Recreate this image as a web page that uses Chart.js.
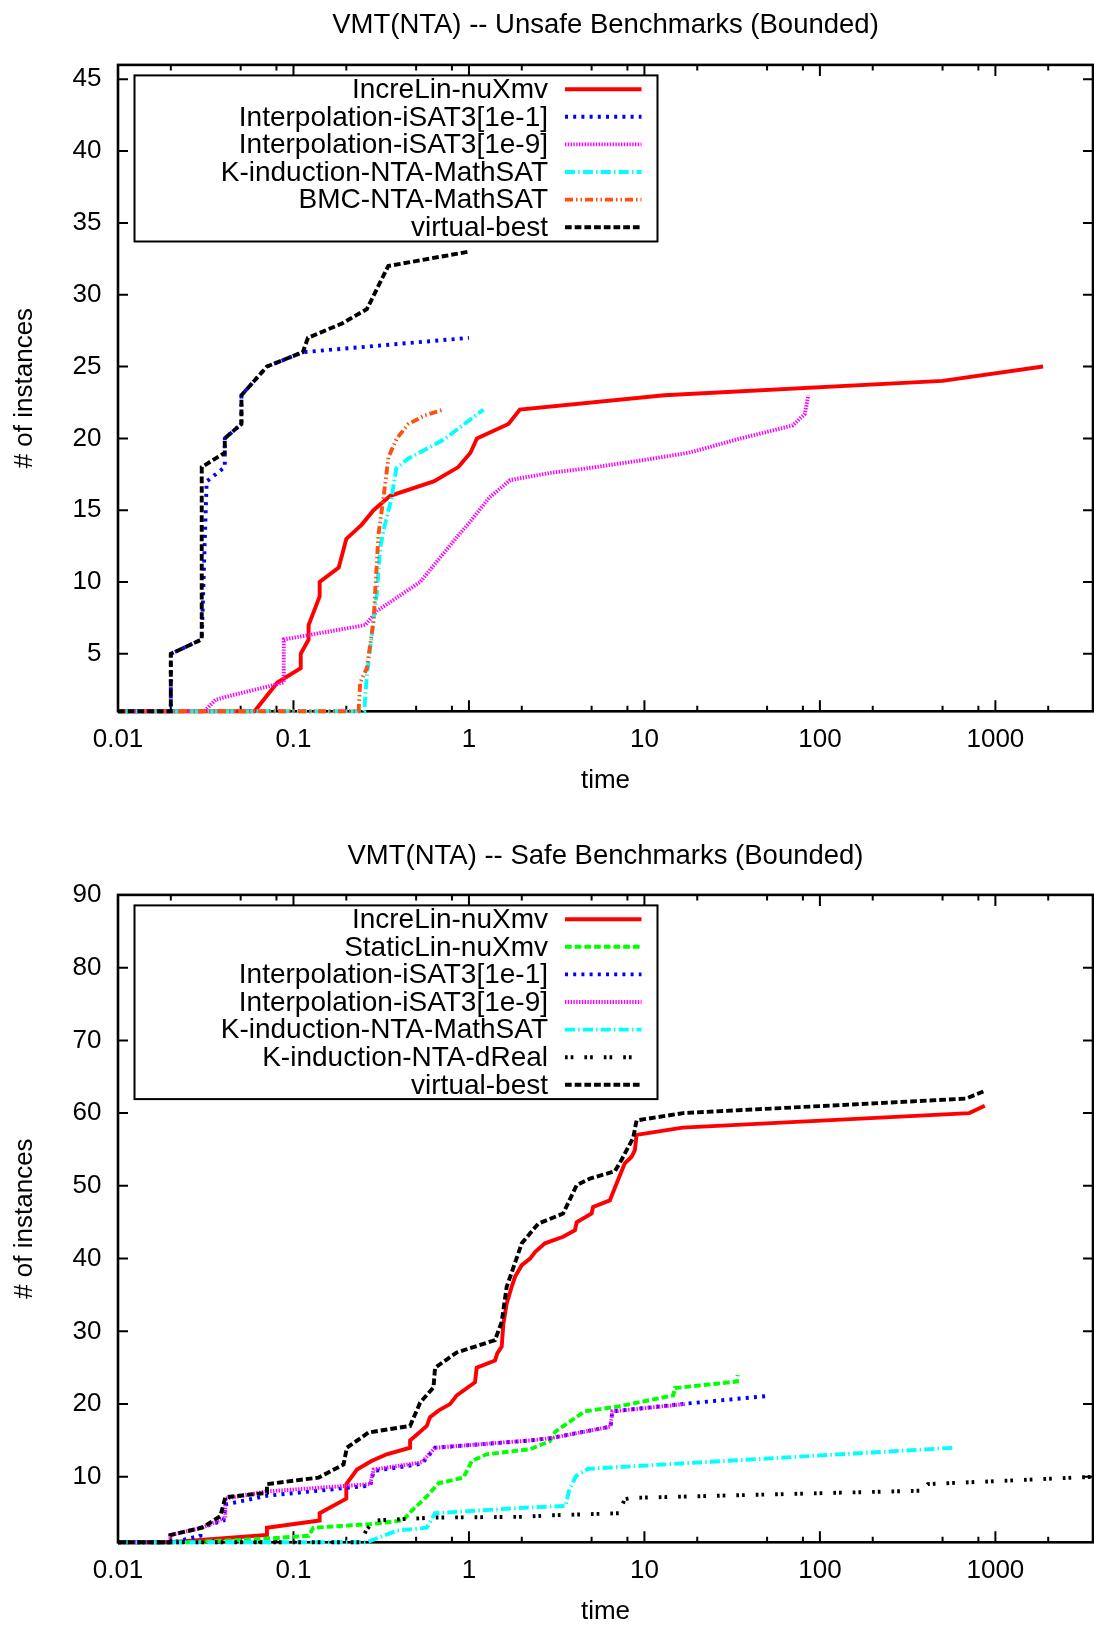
<!DOCTYPE html>
<html>
<head>
<meta charset="utf-8">
<title>VMT(NTA) bounded benchmarks</title>
<script src="https://cdn.jsdelivr.net/npm/chart.js@4.4.1/dist/chart.umd.min.js"></script>
<style>
  html, body { margin: 0; padding: 0; background: #fff; }
  canvas { display: block; }
</style>
</head>
<body>
<canvas id="chart-unsafe" width="1094" height="794"></canvas>
<canvas id="chart-safe" width="1094" height="831"></canvas>
<script>
// time axis (seconds, log scale)
const timeMajor = [0.01, 0.1, 1, 10, 100, 1000];
const timeMinor = [0.02, 0.05, 0.08, 0.2, 0.5, 0.8, 2, 5, 8, 20, 50, 80, 200, 500, 800, 2000];
const unsafeTicks = [5, 10, 15, 20, 25, 30, 35, 40, 45];
const safeTicks = [10, 20, 30, 40, 50, 60, 70, 80, 90];

// unsafe benchmarks: [time, solved instances]
const unsafeIncreLin = [[0.01, 1], [0.06, 1], [0.081, 3], [0.11, 4], [0.11, 5], [0.122, 6], [0.122, 7], [0.141, 9], [0.141, 10], [0.181, 11], [0.2, 13], [0.245, 14], [0.286, 15], [0.356, 16], [0.63, 17], [0.87, 18], [1.02, 19], [1.11, 20], [1.68, 21], [1.95, 22], [13, 23], [500, 24], [1870, 25]];
const unsafeIsat1 = [[0.01, 1], [0.02, 1], [0.02, 5], [0.03, 6], [0.032, 17], [0.0406, 18], [0.0406, 20], [0.0505, 21], [0.0505, 23], [0.0706, 25], [0.113, 26], [1.0, 27]];
const unsafeIsat9 = [[0.01, 1], [0.031, 1], [0.036, 1.8], [0.041, 2], [0.088, 3], [0.088, 6], [0.256, 7], [0.3, 8], [0.527, 10], [0.85, 13.1], [1.0, 14.1], [1.31, 15.9], [1.72, 17.1], [2.9, 17.6], [4.6, 17.9], [10, 18.5], [17.9, 19], [35.5, 20], [70, 20.9], [82, 21.7], [86, 23]];
const unsafeKindMathsat = [[0.01, 1], [0.253, 1], [0.262, 3.5], [0.2985, 9.2], [0.312, 12.4], [0.326, 13.6], [0.363, 15.9], [0.385, 17.9], [0.452, 18.6], [0.715, 19.9], [1.21, 22]];
const unsafeBmc = [[0.01, 1], [0.235, 1], [0.24, 3], [0.262, 4], [0.286, 7.3], [0.305, 13.3], [0.326, 15.9], [0.348, 18.7], [0.388, 20], [0.452, 21], [0.56, 21.6], [0.715, 22]];
const unsafeBest = [[0.01, 1], [0.02, 1], [0.02, 5], [0.03, 6], [0.03, 18], [0.0406, 19], [0.0406, 20], [0.0505, 21], [0.0505, 23], [0.0706, 25], [0.113, 26], [0.121, 27], [0.189, 28], [0.262, 29], [0.347, 32], [1.0, 33]];

// safe benchmarks: [time, solved instances]
const safeIncreLin = [[0.01, 1], [0.02, 1], [0.0706, 2], [0.0706, 3], [0.141, 4], [0.141, 5], [0.2, 7], [0.2, 9], [0.23, 11], [0.28, 12.2], [0.34, 13.1], [0.462, 14], [0.462, 15], [0.575, 17], [0.6, 18.2], [0.67, 19.1], [0.78, 20], [0.852, 21.2], [1.083, 23], [1.107, 25], [1.408, 26], [1.452, 27], [1.537, 27.9], [1.57, 31], [1.64, 33.8], [1.75, 36.1], [1.83, 37.5], [2.0, 39.1], [2.23, 40], [2.38, 40.9], [2.71, 42.1], [3.44, 43], [4.02, 43.9], [4.11, 45], [5.0, 46.2], [5.1, 47.1], [6.35, 48], [6.93, 50.3], [7.73, 53.1], [8.45, 54], [8.82, 54.9], [9.02, 57], [16.5, 58], [710, 60], [870, 61]];
const safeStaticLin = [[0.01, 1], [0.025, 1], [0.0698, 1.5], [0.122, 1.9], [0.13, 3], [0.274, 3.5], [0.42, 4], [0.47, 5.3], [0.575, 7.3], [0.67, 9.1], [0.93, 9.9], [1.04, 12.2], [1.26, 13.1], [2.23, 13.8], [2.89, 14.9], [3.1, 16.2], [4.56, 19], [7.2, 19.7], [14.6, 21.2], [14.9, 22.2], [33.7, 23.1], [34, 24]];
const safeIsat1 = [[0.01, 1], [0.0207, 1], [0.0295, 1.9], [0.0295, 3], [0.04, 4], [0.041, 6.2], [0.0706, 7.4], [0.274, 8.8], [0.286, 10.8], [0.539, 11.8], [0.641, 14], [2.23, 15], [2.89, 15.3], [6.41, 16.9], [6.56, 19], [17.9, 20.1], [49.7, 21.1]];
const safeIsat9 = [[0.01, 1], [0.0199, 1], [0.0199, 2], [0.0301, 3], [0.0409, 4.4], [0.0409, 7], [0.0706, 8], [0.274, 9], [0.286, 11], [0.539, 12], [0.641, 14], [2.23, 15], [2.89, 15.3], [6.41, 16.9], [6.56, 19], [17, 20]];
const safeKindMathsat = [[0.01, 1], [0.262, 1], [0.388, 2.6], [0.575, 3], [0.641, 5], [2.23, 5.8], [3.55, 6], [3.72, 8.1], [4.07, 10.1], [4.78, 11.1], [580, 14]];
const safeKindDreal = [[0.01, 1], [0.24, 1], [0.262, 2.8], [0.29, 4], [0.641, 4.4], [2.04, 4.5], [2.89, 4.7], [7.19, 5], [7.7, 6.9], [8.3, 7.1], [385, 8.1], [412, 9], [3600, 10]];
const safeBest = [[0.01, 1], [0.0199, 1], [0.0199, 2], [0.0301, 3], [0.0383, 4.6], [0.0409, 7.2], [0.0706, 7.8], [0.0706, 9], [0.139, 9.9], [0.193, 11.7], [0.2015, 14], [0.268, 16.1], [0.462, 17], [0.527, 20.2], [0.628, 22.3], [0.641, 25], [0.852, 27.1], [1.408, 28.8], [1.537, 31.3], [1.64, 36.1], [2.0, 42.1], [2.48, 44.8], [3.44, 46.2], [4.11, 50.1], [4.89, 51], [6.78, 52], [7.41, 53.6], [8.63, 56.6], [9.02, 59], [16.6, 60], [680, 62], [860, 63]];

const FONT = "'Liberation Sans', Arial, Helvetica, sans-serif";

// gnuplot-like line types
const lineTypes = {
  increLin: { color: "#ff0000", dash: [] },
  staticLin: { color: "#00ff00", dash: [6.7, 3] },
  isat1: { color: "#0000ff", dash: [3, 5.2] },
  isat9: { color: "#ff00ff", dash: [1.4, 1.4] },
  kindMathsat: { color: "#00ffff", dash: [10, 3.2, 1.5, 3.2] },
  bmc: { color: "#ff5010", dash: [8, 3, 1.5, 3, 1.5, 3] },
  kindDreal: { color: "#000000", dash: [2.7, 3, 2.7, 11] },
  best: { color: "#000000", dash: [6.7, 3] },
};

function makeDatasets(series) {
  const n = series.length;
  return series.map(([label, pairs, type], i) => ({
    label,
    data: pairs.map(([x, y]) => ({ x, y })),
    borderColor: lineTypes[type].color,
    borderDash: lineTypes[type].dash,
    borderWidth: 3.9,
    borderCapStyle: "butt",
    borderJoinStyle: "miter",
    pointRadius: 0,
    tension: 0,
    fill: false,
    clip: false,
    order: n - 1 - i, // later series on top, like gnuplot
  }));
}

// frame with inward ticks, and the key box in the upper left corner
const frameKeyPlugin = {
  id: "frameKey",
  beforeDatasetsDraw(chart, args, opts) {
    const { ctx, chartArea: a, scales: { x, y } } = chart;
    ctx.save();
    ctx.strokeStyle = "#000";
    ctx.lineWidth = 2;
    ctx.beginPath();
    const xTick = (v, len) => {
      const px = x.getPixelForValue(v);
      ctx.moveTo(px, a.bottom); ctx.lineTo(px, a.bottom - len);
      ctx.moveTo(px, a.top); ctx.lineTo(px, a.top + len);
    };
    timeMajor.forEach((v) => xTick(v, 11));
    timeMinor.forEach((v) => xTick(v, 5.5));
    opts.yTicks.forEach((v) => {
      const py = y.getPixelForValue(v);
      ctx.moveTo(a.left, py); ctx.lineTo(a.left + 10, py);
      ctx.moveTo(a.right, py); ctx.lineTo(a.right - 10, py);
    });
    ctx.stroke();
    ctx.lineWidth = 2.6;
    ctx.strokeRect(a.left, a.top, a.right - a.left, a.bottom - a.top);
    ctx.restore();
  },
  afterDatasetsDraw(chart) {
    const { ctx, chartArea: a } = chart;
    const sets = chart.data.datasets;
    const rowH = 27.6;
    const left = a.left + 16.5;
    const top = a.top + 10.5;
    const width = 523;
    const height = sets.length * rowH + 0.5;
    ctx.save();
    ctx.fillStyle = "#fff";
    ctx.fillRect(left, top, width, height);
    ctx.strokeStyle = "#000";
    ctx.lineWidth = 2;
    ctx.strokeRect(left, top, width, height);
    ctx.font = `28px ${FONT}`;
    ctx.textAlign = "right";
    ctx.textBaseline = "middle";
    sets.forEach((ds, i) => {
      const cy = top + rowH / 2 + i * rowH;
      ctx.fillStyle = "#000";
      ctx.fillText(ds.label, left + 413.5, cy + 1);
      ctx.beginPath();
      ctx.strokeStyle = ds.borderColor;
      ctx.lineWidth = ds.borderWidth;
      ctx.lineCap = "butt";
      ctx.setLineDash(ds.borderDash);
      ctx.moveTo(left + 430.5, cy);
      ctx.lineTo(left + 507, cy);
      ctx.stroke();
      ctx.setLineDash([]);
    });
    ctx.restore();
  },
};

function createChart(canvas, cfg) {
  const plotBottom = canvas.height - 82.7;
  return new Chart(canvas, {
    type: "line",
    data: { datasets: makeDatasets(cfg.series) },
    plugins: [frameKeyPlugin],
    options: {
      responsive: false,
      animation: false,
      events: [],
      layout: { padding: { left: 0, right: 1, top: 0, bottom: 0 } },
      plugins: {
        legend: { display: false },
        tooltip: { enabled: false },
        title: {
          display: true,
          text: cfg.title,
          fullSize: false,
          color: "#000",
          font: { family: FONT, size: 27.5, weight: "normal" },
          padding: { top: cfg.titleTop, bottom: cfg.titleBottom },
        },
        frameKey: { yTicks: cfg.yTicks },
      },
      scales: {
        x: {
          type: "logarithmic",
          min: 0.01,
          max: 3600,
          grid: { display: false, drawTicks: false },
          border: { display: false },
          afterBuildTicks: (scale) => { scale.ticks = timeMajor.map((value) => ({ value })); },
          afterFit: (scale) => { scale.height = canvas.height - plotBottom; },
          ticks: {
            autoSkip: false,
            maxRotation: 0,
            minRotation: 0,
            padding: 13,
            color: "#000",
            font: { family: FONT, size: 26 },
            callback: (value) => String(value),
          },
          title: {
            display: true,
            text: "time",
            color: "#000",
            font: { family: FONT, size: 26 },
            padding: { top: 0, bottom: -2.5 },
          },
        },
        y: {
          type: "linear",
          min: 1,
          max: cfg.yMax,
          grid: { display: false, drawTicks: false },
          border: { display: false },
          afterBuildTicks: (scale) => { scale.ticks = cfg.yTicks.map((value) => ({ value })); },
          afterFit: (scale) => { scale.width = 118; },
          ticks: {
            autoSkip: false,
            padding: 16.5,
            color: "#000",
            font: { family: FONT, size: 26 },
          },
          title: {
            display: true,
            text: "# of instances",
            color: "#000",
            font: { family: FONT, size: 26 },
            padding: { top: 9.5, bottom: 0 },
          },
        },
      },
    },
  });
}

createChart(document.getElementById("chart-unsafe"), {
  title: "VMT(NTA) -- Unsafe Benchmarks (Bounded)",
  titleTop: 8.8,
  titleBottom: 23.1,
  yMax: 46,
  yTicks: unsafeTicks,
  series: [
    ["IncreLin-nuXmv", unsafeIncreLin, "increLin"],
    ["Interpolation-iSAT3[1e-1]", unsafeIsat1, "isat1"],
    ["Interpolation-iSAT3[1e-9]", unsafeIsat9, "isat9"],
    ["K-induction-NTA-MathSAT", unsafeKindMathsat, "kindMathsat"],
    ["BMC-NTA-MathSAT", unsafeBmc, "bmc"],
    ["virtual-best", unsafeBest, "best"],
  ],
});

createChart(document.getElementById("chart-safe"), {
  title: "VMT(NTA) -- Safe Benchmarks (Bounded)",
  titleTop: 45.8,
  titleBottom: 22.1,
  yMax: 90,
  yTicks: safeTicks,
  series: [
    ["IncreLin-nuXmv", safeIncreLin, "increLin"],
    ["StaticLin-nuXmv", safeStaticLin, "staticLin"],
    ["Interpolation-iSAT3[1e-1]", safeIsat1, "isat1"],
    ["Interpolation-iSAT3[1e-9]", safeIsat9, "isat9"],
    ["K-induction-NTA-MathSAT", safeKindMathsat, "kindMathsat"],
    ["K-induction-NTA-dReal", safeKindDreal, "kindDreal"],
    ["virtual-best", safeBest, "best"],
  ],
});
</script>
</body>
</html>
